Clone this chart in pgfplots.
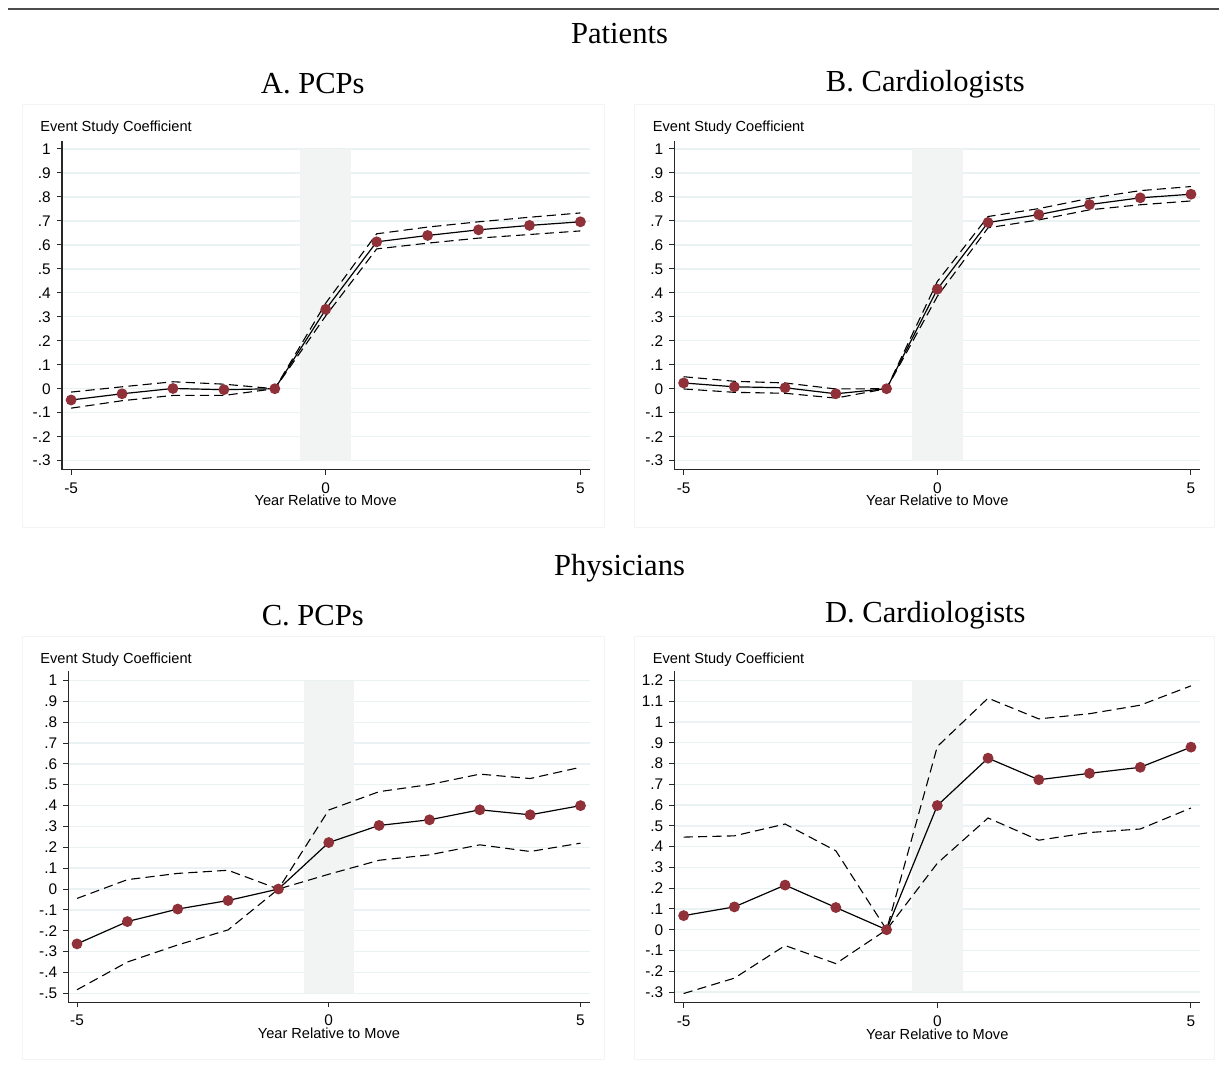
\documentclass[border=0pt]{standalone}
\usepackage{fontspec}
\setmainfont{Liberation Serif}
\setsansfont{Liberation Sans}
\usepackage{pgfplots}
\usepackage{pgfplotstable}
\pgfplotsset{compat=1.18}
\definecolor{gridc}{RGB}{234,242,243}
\definecolor{shadec}{RGB}{242,243,243}
\definecolor{markc}{RGB}{144,48,56}
\definecolor{framec}{RGB}{242,245,245}
\definecolor{axc}{RGB}{40,40,40}

\pgfplotstableread{
x m u l
-5 -0.047 -0.014 -0.081
-4 -0.021 0.008 -0.050
-3 0.001 0.029 -0.028
-2 -0.004 0.019 -0.028
-1 0 0 0
0 0.331 0.357 0.304
1 0.6125 0.646 0.583
2 0.639 0.674 0.607
3 0.6625 0.696 0.628
4 0.681 0.715 0.643
5 0.696 0.733 0.658
}\dataA
\pgfplotstableread{
x m u l
-5 0.024 0.050 -0.001
-4 0.008 0.031 -0.015
-3 0.004 0.024 -0.019
-2 -0.021 -0.001 -0.039
-1 0 0 0
0 0.415 0.447 0.385
1 0.693 0.718 0.671
2 0.726 0.751 0.704
3 0.768 0.794 0.746
4 0.796 0.826 0.767
5 0.811 0.843 0.783
}\dataB
\pgfplotstableread{
x m u l
-5 -0.263 -0.045 -0.483
-4 -0.156 0.045 -0.350
-3 -0.096 0.075 -0.268
-2 -0.055 0.090 -0.196
-1 0 0 0
0 0.223 0.379 0.071
1 0.305 0.467 0.138
2 0.332 0.501 0.164
3 0.380 0.551 0.212
4 0.356 0.530 0.180
5 0.400 0.584 0.220
}\dataC
\pgfplotstableread{
x m u l
-5 0.068 0.446 -0.307
-4 0.110 0.452 -0.233
-3 0.215 0.509 -0.076
-2 0.107 0.380 -0.163
-1 0 0 0
0 0.598 0.882 0.320
1 0.826 1.115 0.538
2 0.722 1.015 0.431
3 0.753 1.040 0.468
4 0.782 1.081 0.485
5 0.879 1.174 0.586
}\dataD

\newcommand{\smallsf}{\sffamily\fontsize{7.3}{8.5}\selectfont}
\newcommand{\ticksf}{\sffamily\fontsize{7.7}{8.5}\selectfont}
\pgfplotsset{
  esstyle/.style={
    scale only axis,
    enlargelimits=false,
    axis x line=bottom, axis y line=left,
    axis line style={-, draw=axc, line width=0.6pt},
    xtick={-5,0,5}, xticklabels={-5,0,5},
    tick style={draw=axc, line width=0.5pt},
    tick align=outside, major tick length=2.6pt,
    ymajorgrids, grid style={gridc, line width=0.7pt},
    ticklabel style={font=\ticksf},
    xticklabel style={yshift=-0.3pt},
    yticklabel style={xshift=0.5pt},
    /pgf/number format/assume math mode=true,
    xlabel={Year Relative to Move},
    xlabel style={font=\smallsf, at={(axis description cs:0.5,0)}, anchor=center, yshift=-15.5pt},
    ciline/.style={black, dash pattern=on 4.6pt off 2.6pt, line width=0.55pt},
    mline/.style={black, line width=0.6pt, mark=*, mark size=2.4pt,
      mark options={solid, fill=markc, draw=markc}},
  },
  ytA/.style={ytick={-0.3,-0.2,-0.1,0,0.1,0.2,0.3,0.4,0.5,0.6,0.7,0.8,0.9,1},
    yticklabels={-.3,-.2,-.1,0,.1,.2,.3,.4,.5,.6,.7,.8,.9,1}},
  ytC/.style={ytick={-0.5,-0.4,-0.3,-0.2,-0.1,0,0.1,0.2,0.3,0.4,0.5,0.6,0.7,0.8,0.9,1},
    yticklabels={-.5,-.4,-.3,-.2,-.1,0,.1,.2,.3,.4,.5,.6,.7,.8,.9,1}},
  ytD/.style={ytick={-0.3,-0.2,-0.1,0,0.1,0.2,0.3,0.4,0.5,0.6,0.7,0.8,0.9,1,1.1,1.2},
    yticklabels={-.3,-.2,-.1,0,.1,.2,.3,.4,.5,.6,.7,.8,.9,1,1.1,1.2}},
}

\begin{document}
\begin{tikzpicture}
\path (0pt,0pt) rectangle (610pt,-533.5pt);
\draw[black!70, line width=0.9pt] (4pt,-4.5pt) -- (610pt,-4.5pt);
% panel frames
\draw[framec, line width=0.5pt] (11.5pt,-52.5pt) rectangle (302.5pt,-264pt);
\draw[framec, line width=0.5pt] (317.5pt,-52.5pt) rectangle (607.5pt,-264pt);
\draw[framec, line width=0.5pt] (11.5pt,-318.5pt) rectangle (302.5pt,-530pt);
\draw[framec, line width=0.5pt] (317.5pt,-318.5pt) rectangle (607.5pt,-530pt);
% titles
\node[font=\fontsize{15.3}{17}\selectfont] at (310pt,-17pt) {Patients};
\node[font=\fontsize{15.3}{17}\selectfont] at (156.5pt,-42pt) {A. PCPs};
\node[font=\fontsize{15.3}{17}\selectfont] at (463pt,-42pt) {B. Cardiologists};
\node[font=\fontsize{15.3}{17}\selectfont] at (310pt,-284.5pt) {Physicians};
\node[font=\fontsize{15.3}{17}\selectfont] at (156.5pt,-308pt) {C. PCPs};
\node[font=\fontsize{15.3}{17}\selectfont] at (463pt,-308pt) {D. Cardiologists};
% y titles
\node[font=\smallsf, anchor=west, inner sep=0pt] at (20pt,-64pt) {Event Study Coefficient};
\node[font=\smallsf, anchor=west, inner sep=0pt] at (326.5pt,-64pt) {Event Study Coefficient};
\node[font=\smallsf, anchor=west, inner sep=0pt] at (20pt,-330pt) {Event Study Coefficient};
\node[font=\smallsf, anchor=west, inner sep=0pt] at (326.5pt,-330pt) {Event Study Coefficient};

% Panel A
\begin{axis}[esstyle, ytA, at={(31pt,-70.3pt)}, anchor=north west,
  width=264pt, height=164.7pt, xmin=-5.18, xmax=5.18, ymin=-0.3375, ymax=1.035]
\addplot[draw=none, fill=shadec] coordinates {(-0.5,-0.3) (0.5,-0.3) (0.5,1) (-0.5,1)} -- cycle;
\addplot[ciline] table[x=x,y=u] {\dataA};
\addplot[ciline] table[x=x,y=l] {\dataA};
\addplot[mline] table[x=x,y=m] {\dataA};
\end{axis}

% Panel B
\begin{axis}[esstyle, ytA, at={(337.5pt,-70.3pt)}, anchor=north west,
  width=263pt, height=164.7pt, xmin=-5.18, xmax=5.18, ymin=-0.3375, ymax=1.035]
\addplot[draw=none, fill=shadec] coordinates {(-0.5,-0.3) (0.5,-0.3) (0.5,1) (-0.5,1)} -- cycle;
\addplot[ciline] table[x=x,y=u] {\dataB};
\addplot[ciline] table[x=x,y=l] {\dataB};
\addplot[mline] table[x=x,y=m] {\dataB};
\end{axis}

% Panel C
\begin{axis}[esstyle, ytC, at={(34.25pt,-335.8pt)}, anchor=north west,
  width=260.75pt, height=165.7pt, xmin=-5.17, xmax=5.18, ymin=-0.543, ymax=1.045]
\addplot[draw=none, fill=shadec] coordinates {(-0.5,-0.5) (0.5,-0.5) (0.5,1) (-0.5,1)} -- cycle;
\addplot[ciline] table[x=x,y=u] {\dataC};
\addplot[ciline] table[x=x,y=l] {\dataC};
\addplot[mline] table[x=x,y=m] {\dataC};
\end{axis}

% Panel D
\begin{axis}[esstyle, ytD, at={(337.5pt,-335.8pt)}, anchor=north west,
  width=263pt, height=166pt, xmin=-5.18, xmax=5.18, ymin=-0.352, ymax=1.245]
\addplot[draw=none, fill=shadec] coordinates {(-0.5,-0.3) (0.5,-0.3) (0.5,1.2) (-0.5,1.2)} -- cycle;
\addplot[ciline] table[x=x,y=u] {\dataD};
\addplot[ciline] table[x=x,y=l] {\dataD};
\addplot[mline] table[x=x,y=m] {\dataD};
\end{axis}
\end{tikzpicture}
\end{document}
